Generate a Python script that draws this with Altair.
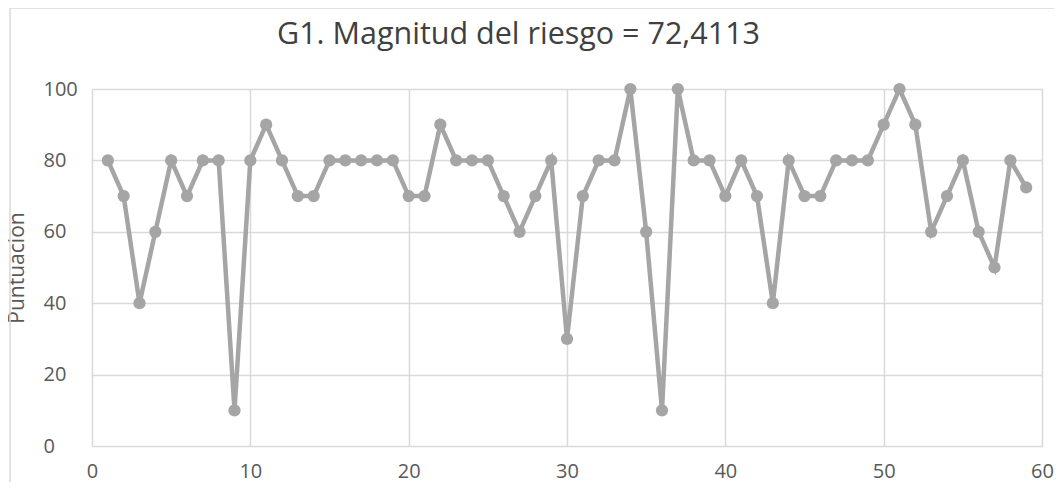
import altair as alt
import pandas as pd

x_vals = list(range(1, 60))
scores = [80, 70, 40, 60, 80, 70, 80, 80, 10, 80,
          90, 80, 70, 70, 80, 80, 80, 80, 80, 70,
          70, 90, 80, 80, 80, 70, 60, 70, 80, 30,
          70, 80, 80, 100, 60, 10, 100, 80, 80, 70,
          80, 70, 40, 80, 70, 70, 80, 80, 80, 90,
          100, 90, 60, 70, 80, 60, 50, 80, 72.4113]
x_ticks = [0, 10, 20, 30, 40, 50, 60]
y_ticks = [0, 20, 40, 60, 80, 100]
title_text = "G1. Magnitud del riesgo = 72,4113"
y_title = "Puntuacion"

df = pd.DataFrame({"x": x_vals, "y": scores})

FONT = "Open Sans"
GRID = "#d9d9d9"
LABEL = "#595959"
SERIES = "#a5a5a5"

W, H = 950, 357

xenc = alt.X("x:Q", scale=alt.Scale(domain=[0, 60], nice=False),
             axis=alt.Axis(values=x_ticks, title=None, grid=True, gridColor=GRID,
                           gridWidth=1.5, domain=False, ticks=False, labelPadding=15,
                           labelFlush=False, labelOverlap=False,
                           labelFontSize=20, labelColor=LABEL, labelFont=FONT))
yenc = alt.Y("y:Q", scale=alt.Scale(domain=[0, 100], nice=False),
             axis=alt.Axis(values=y_ticks, title=y_title, grid=True, gridColor=GRID,
                           gridWidth=1.5, domain=False, ticks=False, labelPadding=49,
                           labelAlign="left", labelFlush=False,
                           labelFontSize=20, labelColor=LABEL, labelFont=FONT,
                           titleFont=FONT, titleFontSize=21, titleColor=LABEL,
                           titleFontWeight="normal", titleX=-75, titleY=H / 2,
                           titleAngle=270, titleAlign="center", titleBaseline="middle"))

one = alt.Chart(df).transform_filter("datum.x == 1")

border = one.mark_rect(fill=None, stroke=GRID, strokeWidth=1.5, clip=False).encode(
    x=alt.value(-82), x2=alt.value(W + 40), y=alt.value(-81), y2=alt.value(H + 80)
)
title_mark = one.mark_text(font=FONT, fontSize=30.5, color="#404040", align="center",
                           baseline="alphabetic", clip=False).encode(
    x=alt.value(W / 2 - 48.5), y=alt.value(-45), text=alt.value(title_text)
)

line = alt.Chart(df).mark_line(color=SERIES, strokeWidth=4.5).encode(x=xenc, y=yenc)
pts = alt.Chart(df).mark_point(filled=True, color=SERIES, opacity=1, size=150, shape="circle").encode(
    x="x:Q", y="y:Q")

chart = alt.layer(border, line, pts, title_mark).properties(
    width=W, height=H,
    autosize=alt.AutoSizeParams(type="none"),
    padding={"left": 84, "top": 81, "right": 12, "bottom": 36},
).configure_view(stroke=GRID, strokeWidth=1.5).configure(background="white")

chart.save("out.html", embed_options={"renderer": "svg", "actions": False})
